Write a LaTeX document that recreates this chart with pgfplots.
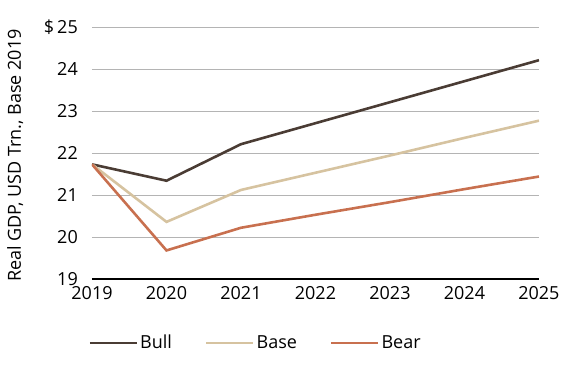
\documentclass[border=0pt]{standalone}
\usepackage{pgfplots}
\pgfplotsset{compat=1.18}
\usepackage{fontspec}
\setmainfont{Open Sans}
\definecolor{bull}{HTML}{4A3C34}
\definecolor{base}{HTML}{D6C3A0}
\definecolor{bear}{HTML}{C8704F}
\definecolor{gridc}{HTML}{B4B4B4}
\begin{document}
\fontsize{18bp}{21bp}\selectfont
\begin{tikzpicture}
\path[use as bounding box] (-92bp,-87bp) rectangle (488bp,279bp);
\begin{axis}[
  at={(0,0)}, anchor=south west,
  scale only axis, width=447bp, height=252bp,
  xmin=2019, xmax=2025, ymin=19, ymax=25,
  xtick={2019,...,2025}, ytick={19,...,25},
  yticklabels={19,20,21,22,23,24,{\$\,25}},
  xticklabel style={/pgf/number format/1000 sep={}, yshift=-1bp},
  x tick label style={/pgf/number format/1000 sep={}},
  /pgf/number format/assume math mode=true,
  yticklabel style={xshift=-8bp},
  major tick length=0pt,
  ymajorgrids, grid style={gridc, line width=1pt},
  axis x line*=bottom, axis y line*=left,
  x axis line style={-, black, line width=2.4pt},
  y axis line style={draw=none},
  ylabel={Real GDP, USD Trn., Base 2019},
  ylabel style={at={(axis description cs:-0.172,0.49)}, anchor=center},
  legend style={at={(axis description cs:-0.008,-0.254)}, anchor=west, draw=none, fill=none,
    legend columns=3, /tikz/every even column/.append style={column sep=31bp},
    legend cell align=left, inner sep=0pt},
  legend image code/.code={\draw[#1] (0bp,0bp) -- (47bp,0bp);},
  every axis plot/.append style={line width=2.6pt},
]
\addplot[bull] coordinates {(2019,21.73) (2020,21.34) (2021,22.21) (2022,22.71) (2023,23.21) (2024,23.71) (2025,24.21)};
\addlegendentry{Bull}
\addplot[base] coordinates {(2019,21.73) (2020,20.36) (2021,21.12) (2022,21.53) (2023,21.94) (2024,22.36) (2025,22.77)};
\addlegendentry{Base}
\addplot[bear] coordinates {(2019,21.73) (2020,19.68) (2021,20.22) (2022,20.53) (2023,20.83) (2024,21.14) (2025,21.44)};
\addlegendentry{Bear}
\end{axis}
\end{tikzpicture}
\end{document}
